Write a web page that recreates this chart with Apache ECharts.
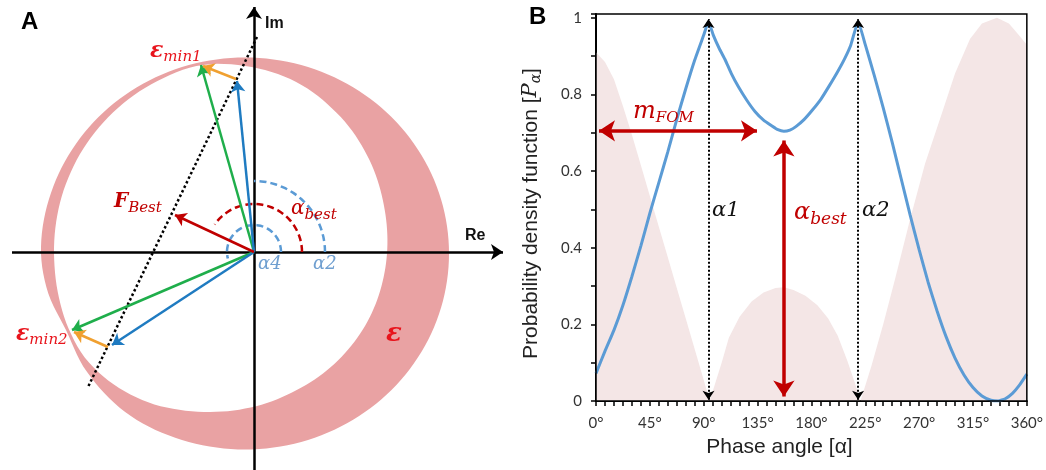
<!DOCTYPE html>
<html>
<head>
<meta charset="utf-8">
<script src="https://cdn.jsdelivr.net/npm/echarts@6/dist/echarts.min.js"></script>
<style>
html, body { margin: 0; padding: 0; background: #fff; }
#chart { width: 1046px; height: 470px; }
</style>
</head>
<body>
<div id="chart"></div>
<script>
// ---- panel B: probability density over phase angle ----
var phaseDeg = [0, 7.5, 15, 22.5, 30, 37.5, 45, 52.5, 60, 67.5, 75, 82.5, 90, 94, 98, 103, 108, 113, 119, 126, 133, 140, 147, 152, 157, 162, 167, 174, 181, 188, 195, 202, 208, 213, 219, 225, 232.5, 240, 247.5, 255, 262.5, 270, 277.5, 285, 292.5, 300, 307.5, 315, 322.5, 330, 336, 342, 348, 354, 360];
var pdfValues = [0.072, 0.13, 0.185, 0.25, 0.325, 0.405, 0.49, 0.57, 0.65, 0.735, 0.815, 0.89, 0.955, 0.99, 0.955, 0.92, 0.89, 0.855, 0.82, 0.785, 0.755, 0.733, 0.718, 0.708, 0.704, 0.707, 0.716, 0.735, 0.76, 0.788, 0.823, 0.86, 0.895, 0.93, 0.99, 0.93, 0.85, 0.765, 0.675, 0.58, 0.485, 0.395, 0.31, 0.235, 0.168, 0.112, 0.068, 0.035, 0.013, 0.002, 0, 0.006, 0.02, 0.042, 0.07];
var shadeDeg = [0, 7.5, 15, 22.5, 30, 37.5, 45, 52.5, 60, 67.5, 75, 82.5, 90, 95, 96, 100, 105, 111, 120, 130, 140, 150, 157, 165, 175, 185, 194, 202, 210, 216, 221, 222, 230, 240, 250, 262.5, 275, 290, 300, 312.5, 322.5, 335, 345, 352, 360];
var shadeValues = [0.91, 0.885, 0.84, 0.77, 0.695, 0.615, 0.535, 0.455, 0.375, 0.295, 0.215, 0.135, 0.055, 0, 0, 0.05, 0.1, 0.165, 0.22, 0.26, 0.283, 0.295, 0.297, 0.29, 0.275, 0.25, 0.215, 0.17, 0.105, 0.05, 0, 0, 0.09, 0.2, 0.32, 0.475, 0.62, 0.76, 0.855, 0.945, 0.985, 1.0, 0.985, 0.96, 0.93];
var alphaMarks = [94, 219];
var alphaBest = 157;
var bestArrow = [0.012, 0.68];
var fomArrow = [2.5, 134.5];
var fomLevel = 0.705;

// ---- panel A: complex plane, units are pixels from the origin ----
var greenVecs = [[-53, 187], [-182, -78]];
var blueVecs = [[-17, 171], [-142, -93]];
var orangeVecs = [[[-18, 173], [-51, 186]], [[-146, -95], [-180, -80]]];
var fBest = [-79, 37];
var dotLine = [[3, 215], [-166, -135]];
var outerEdge = { c: [-9, -1.5], rx: 204, ry: 196 };
// crescent, by angle round the outer centre: outer edge pulled in, band width
var bandAngle = [0, 20, 40, 60, 75, 90, 103, 115, 135, 160, 180, 192, 204, 216, 235, 255, 270, 290, 315, 340];
var outerInset = [0, 0, 0, 0, 0, 0, 0, 0, 0, 0, 0, 3, 8, 4, 0, 0, 0, 0, 0, 0];
var bandWidth = [62, 56, 44, 29, 17, 8.5, 3, 4, 7, 11, 13, 9.5, 3, 7, 19, 32, 41, 51, 59, 63];
// radius, start angle, end angle (degrees)
var arcAlpha4 = [27, 0, 194];
var arcBest = [48, 0, 145];
var arcAlpha2 = [71, 0, 90];

function zip(xs, ys) {
  return xs.map(function (x, i) { return [x, ys[i]]; });
}
function edgePt(e, deg, inset) {
  var t = deg * Math.PI / 180;
  var dx = e.rx * Math.cos(t), dy = e.ry * Math.sin(t);
  var k = 1 - inset / Math.sqrt(dx * dx + dy * dy);
  return [e.c[0] + dx * k, e.c[1] + dy * k];
}
// catmull-rom through a per-angle list, wrapping round the full turn
function around(vals, deg) {
  var n = bandAngle.length;
  for (var i = 0; i < n; i++) {
    var a0 = bandAngle[i], a1 = i + 1 < n ? bandAngle[i + 1] : 360;
    if (deg >= a0 && deg <= a1) {
      var p0 = vals[(i - 1 + n) % n], p1 = vals[i], p2 = vals[(i + 1) % n], p3 = vals[(i + 2) % n];
      var u = (deg - a0) / (a1 - a0);
      return 0.5 * (2 * p1 + (p2 - p0) * u + (2 * p0 - 5 * p1 + 4 * p2 - p3) * u * u + (3 * p1 - p0 - 3 * p2 + p3) * u * u * u);
    }
  }
  return vals[0];
}
function crescentEdge(inner) {
  var pts = [];
  for (var a = 0; a < 360; a += 2) {
    var inset = around(outerInset, a) + (inner ? around(bandWidth, a) : 0);
    pts.push(edgePt(outerEdge, a, inset));
  }
  return pts;
}
function arcPts(arc) {
  var pts = [];
  for (var a = arc[1]; a <= arc[2]; a += 4) {
    var t = a * Math.PI / 180;
    pts.push([arc[0] * Math.cos(t), arc[0] * Math.sin(t)]);
  }
  var te = arc[2] * Math.PI / 180;
  pts.push([arc[0] * Math.cos(te), arc[0] * Math.sin(te)]);
  return pts;
}

var chart = echarts.init(document.getElementById('chart'));

var mathFont = 'DejaVu Serif';
var red = '#c00000';
var bright = '#e8141c';
var lightBlue = '#5b9bd5';

function vec(from, to, color) {
  return { coords: [from, to], lineStyle: { color: color } };
}
function label(left, top, text, rich) {
  return { type: 'text', left: left, top: top, z: 100, style: { text: text, rich: rich } };
}
function subRich(color, size, subSize, bold, shift) {
  return {
    e: { fontFamily: mathFont, fontSize: size, fontStyle: 'italic', fontWeight: bold ? 'bold' : 'normal', fill: color },
    s: { fontFamily: mathFont, fontSize: subSize, fontStyle: 'italic', fill: color, padding: [shift, 0, 0, 0] }
  };
}

chart.setOption({
  animation: false,
  backgroundColor: '#fff',
  grid: [
    { left: 596, top: 14, width: 435, height: 387, show: true, borderColor: '#000', borderWidth: 1.5, z: 5 },
    { left: 0, top: 0, width: 520, height: 470 }
  ],
  xAxis: [
    {
      type: 'value', gridIndex: 0, min: 0, max: 360, interval: 7.5,
      axisLine: { lineStyle: { color: '#000', width: 2 } },
      axisTick: { length: 5, lineStyle: { color: '#000', width: 1.5 } },
      splitLine: { show: false },
      axisLabel: {
        color: '#333', fontSize: 15, fontFamily: 'Lato', margin: 15,
        formatter: function (v) { return v % 45 === 0 ? v + '°' : ''; }
      },
      name: 'Phase angle [α]', nameLocation: 'middle', nameGap: 36,
      nameTextStyle: { color: '#222', fontSize: 21, fontFamily: 'Liberation Sans', padding: [0, 64, 0, 0] }
    },
    { type: 'value', gridIndex: 1, min: -254, max: 266, show: false }
  ],
  yAxis: [
    {
      type: 'value', gridIndex: 0, min: 0, max: 1.01, interval: 0.1,
      axisLine: { lineStyle: { color: '#000', width: 2 } },
      axisTick: { length: 5, lineStyle: { color: '#000', width: 1.5 } },
      splitLine: { show: false },
      axisLabel: {
        color: '#333', fontSize: 15, fontFamily: 'Lato', margin: 14,
        formatter: function (v) {
          var k = Math.round(v * 10);
          if (v > 1.0001 || k % 2 !== 0) return '';
          return String(k / 10);
        }
      },
      name: 'Probability density function [{i|P}{s|α}]', nameLocation: 'middle', nameGap: 53,
      nameTextStyle: {
        color: '#222', fontSize: 21, fontFamily: 'Liberation Sans', padding: [0, 12, 0, 0],
        rich: {
          i: { fontSize: 21, fontFamily: mathFont, fontStyle: 'italic', color: '#222' },
          s: { fontSize: 14, fontFamily: mathFont, fontStyle: 'italic', color: '#222', padding: [10, 0, 0, 0] }
        }
      }
    },
    { type: 'value', gridIndex: 1, min: -218, max: 252, show: false }
  ],
  series: [
    // panel B
    {
      type: 'line', xAxisIndex: 0, yAxisIndex: 0, data: zip(shadeDeg, shadeValues),
      symbol: 'none', lineStyle: { width: 0 }, areaStyle: { color: '#f4e6e6', opacity: 1 }, z: 1
    },
    {
      type: 'line', xAxisIndex: 0, yAxisIndex: 0, data: zip(phaseDeg, pdfValues),
      symbol: 'none', smooth: 0.15, lineStyle: { color: lightBlue, width: 3 }, z: 3
    },
    {
      type: 'lines', coordinateSystem: 'cartesian2d', xAxisIndex: 0, yAxisIndex: 0, z: 4,
      symbol: ['arrow', 'arrow'], symbolSize: 9,
      lineStyle: { color: '#000', width: 2, type: 'dotted', opacity: 1 },
      data: alphaMarks.map(function (a) { return { coords: [[a, 0.003], [a, 0.997]] }; })
    },
    {
      type: 'lines', coordinateSystem: 'cartesian2d', xAxisIndex: 0, yAxisIndex: 0, z: 4,
      symbol: ['arrow', 'arrow'], symbolSize: 16,
      lineStyle: { color: red, width: 3.5, opacity: 1 },
      data: [
        { coords: [[alphaBest, bestArrow[0]], [alphaBest, bestArrow[1]]] },
        { coords: [[fomArrow[0], fomLevel], [fomArrow[1], fomLevel]] }
      ]
    },
    // panel A: crescent
    {
      type: 'custom', xAxisIndex: 1, yAxisIndex: 1, data: [0], z: 1, silent: true,
      renderItem: function (params, api) {
        function px(p) { return api.coord(p); }
        return {
          type: 'group',
          children: [
            { type: 'polygon', shape: { points: crescentEdge(false).map(px) }, style: { fill: '#e9a2a3' } },
            { type: 'polygon', shape: { points: crescentEdge(true).map(px) }, style: { fill: '#fff' } }
          ]
        };
      }
    },
    // axes Re / Im
    {
      type: 'lines', coordinateSystem: 'cartesian2d', xAxisIndex: 1, yAxisIndex: 1, z: 3,
      symbol: ['none', 'arrow'], symbolSize: 12,
      lineStyle: { color: '#000', width: 2.5, opacity: 1 },
      data: [{ coords: [[-242, 0], [249, 0]] }, { coords: [[0, -220], [0, 245]] }]
    },
    // dotted construction line
    {
      type: 'lines', coordinateSystem: 'cartesian2d', xAxisIndex: 1, yAxisIndex: 1, z: 3,
      lineStyle: { color: '#000', width: 2.5, type: 'dotted', opacity: 1 },
      data: [{ coords: dotLine }]
    },
    // dashed angle arcs
    {
      type: 'lines', coordinateSystem: 'cartesian2d', xAxisIndex: 1, yAxisIndex: 1, z: 3, polyline: true,
      symbol: ['none', 'arrow'], symbolSize: 11,
      lineStyle: { width: 2.5, type: [7, 4], opacity: 1 },
      data: [
        { coords: arcPts(arcAlpha4), lineStyle: { color: lightBlue } },
        { coords: arcPts(arcAlpha2), lineStyle: { color: lightBlue } },
        { coords: arcPts(arcBest), lineStyle: { color: red } }
      ]
    },
    // vectors
    {
      type: 'lines', coordinateSystem: 'cartesian2d', xAxisIndex: 1, yAxisIndex: 1, z: 4,
      symbol: ['none', 'arrow'], symbolSize: 11,
      lineStyle: { width: 2.5, opacity: 1 },
      data: [
        vec([0, 0], greenVecs[0], '#1fae4b'),
        vec([0, 0], greenVecs[1], '#1fae4b'),
        vec([0, 0], blueVecs[0], '#1f7bc1'),
        vec([0, 0], blueVecs[1], '#1f7bc1'),
        vec(orangeVecs[0][0], orangeVecs[0][1], '#f0a030'),
        vec(orangeVecs[1][0], orangeVecs[1][1], '#f0a030'),
        vec([0, 0], fBest, red)
      ]
    }
  ],
  graphic: [
    { type: 'text', left: 21, top: 10, z: 100, style: { text: 'A', font: 'bold 24px Liberation Sans', fill: '#000' } },
    { type: 'text', left: 529, top: 5, z: 100, style: { text: 'B', font: 'bold 24px Liberation Sans', fill: '#000' } },
    { type: 'text', left: 265, top: 16, z: 100, style: { text: 'Im', font: 'bold 16px Liberation Sans', fill: '#111' } },
    { type: 'text', left: 465, top: 228, z: 100, style: { text: 'Re', font: 'bold 16px Liberation Sans', fill: '#111' } },
    label(150, 40, '{e|ε}{s|min1}', subRich(bright, 22, 15, true, 12)),
    label(16, 323, '{e|ε}{s|min2}', subRich(bright, 22, 15, true, 12)),
    label(114, 192, '{e|F}{s|Best}', subRich(red, 20, 15, true, 12)),
    label(291, 199, '{e|α}{s|best}', subRich(red, 20, 15, false, 12)),
    { type: 'text', left: 258, top: 255, z: 100, style: { text: 'α4', font: 'italic 18px DejaVu Serif', fill: '#6f9fd0' } },
    { type: 'text', left: 313, top: 255, z: 100, style: { text: 'α2', font: 'italic 18px DejaVu Serif', fill: '#6f9fd0' } },
    { type: 'text', left: 386, top: 321, z: 100, style: { text: 'ε', font: 'bold italic 26px DejaVu Serif', fill: bright } },
    // panel B annotations
    { type: 'text', left: 712, top: 200, z: 100, style: { text: 'α1', font: 'italic 21px DejaVu Serif', fill: '#111' } },
    { type: 'text', left: 862, top: 200, z: 100, style: { text: 'α2', font: 'italic 21px DejaVu Serif', fill: '#111' } },
    label(794, 201, '{e|α}{s|best}', subRich(red, 24, 17, false, 14)),
    label(633, 100, '{e|m}{s|FOM}', subRich(red, 24, 15, false, 12))
  ]
});
</script>
</body>
</html>
